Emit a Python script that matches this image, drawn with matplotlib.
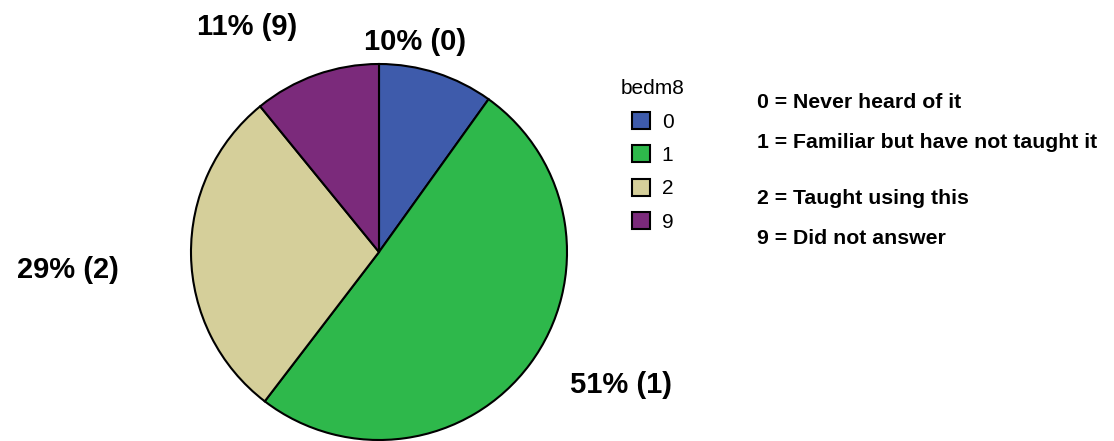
import matplotlib
matplotlib.use("Agg")
import matplotlib.pyplot as plt

# bedm8 responses
codes = ["0", "1", "2", "9"]
pcts = [10, 51, 29, 11]
colors = ["#3E5BAB", "#2EB84B", "#D5CF9A", "#7B2A7B"]
code_desc = ["0 = Never heard of it",
             "1 = Familiar but have not taught it",
             "2 = Taught using this",
             "9 = Did not answer"]

W, H = 1114, 441
fig = plt.figure(figsize=(W / 100, H / 100), dpi=100)
plt.rcParams['font.family'] = ['Liberation Sans', 'DejaVu Sans']

def px(x, y):
    # pixel position (from top-left) -> figure fraction
    return x / W, 1 - y / H

cx, cy, r = 379, 252, 188
ax = fig.add_axes([(cx - r) / W, (H - cy - r) / H, 2 * r / W, 2 * r / H])
wedges, _ = ax.pie(pcts, colors=colors, startangle=90, counterclock=False,
                   wedgeprops=dict(edgecolor="black", linewidth=1.5))
for w in wedges:
    w.set_clip_on(False)
ax.set_xlim(-1, 1)
ax.set_ylim(-1, 1)
ax.set_axis_off()

# slice labels
lab_pos = [(415, 42), (621, 385), (68, 270), (247, 27)]
for c, p, (lx, ly) in zip(codes, pcts, lab_pos):
    fig.text(*px(lx, ly), f"{p}% ({c})", fontsize=21, fontweight="bold",
             ha="center", va="center")

leg = fig.legend(wedges, codes, title="bedm8", loc="upper left",
                 bbox_to_anchor=px(621, 79), frameon=False, fontsize=15,
                 title_fontsize=15, handlelength=0.87, handleheight=0.87,
                 labelspacing=0.66, handletextpad=0.55, borderpad=0,
                 borderaxespad=0)
leg._legend_box.sep = 10

# code descriptions
desc_y = [103, 143, 198, 238]
for d, y in zip(code_desc, desc_y):
    fig.text(*px(757, y), d, fontsize=15.3, fontweight="bold",
             ha="left", va="center")

fig.savefig("out.png", dpi=100)
